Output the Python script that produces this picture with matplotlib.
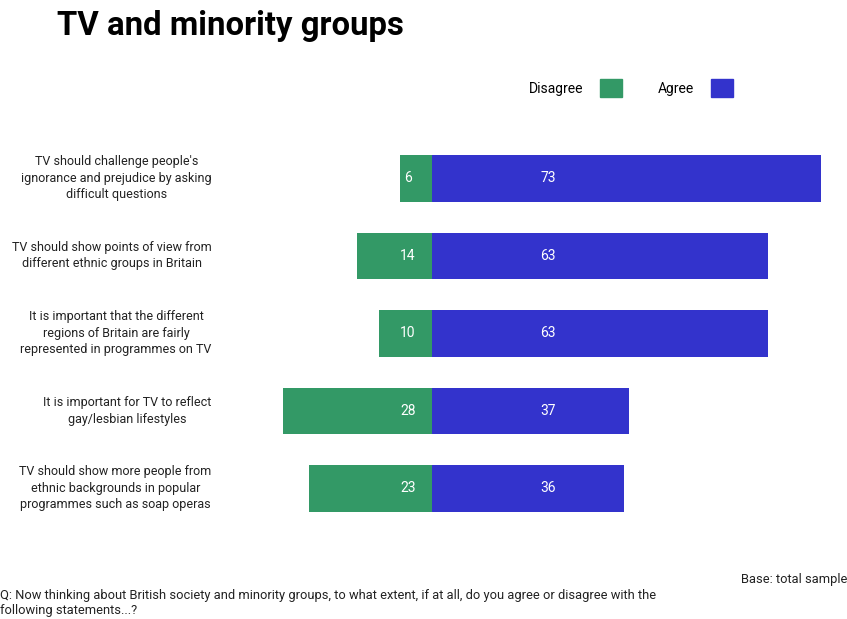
import matplotlib
matplotlib.use("Agg")
import matplotlib.pyplot as plt
from matplotlib.patches import Patch

plt.rcParams["font.family"] = ["Roboto", "DejaVu Sans"]

statements = [
    "TV should challenge people's\nignorance and prejudice by asking\ndifficult questions",
    "TV should show points of view from\ndifferent ethnic groups in Britain",
    "It is important that the different\nregions of Britain are fairly\nrepresented in programmes on TV",
    "It is important for TV to reflect\ngay/lesbian lifestyles",
    "TV should show more people from\nethnic backgrounds in popular\nprogrammes such as soap operas",
]
disagree = [6, 14, 10, 28, 23]
agree = [73, 63, 63, 37, 36]

GREEN = "#339966"
BLUE = "#3333cc"

fig = plt.figure(figsize=(8.47, 6.19), dpi=100)
W, H = 847, 619
# axes placed in pixel terms: zero line at x=432, ~5.33 px per point
ax = fig.add_axes([280 / W, 1 - 527 / H, 560 / W, (527 - 139.5) / H])

ypos = list(range(len(statements)))
ax.barh(ypos, [-d for d in disagree], height=0.6, color=GREEN)
ax.barh(ypos, agree, height=0.6, color=BLUE)

for y, d, a in zip(ypos, disagree, agree):
    ax.text(-4.5, y, str(d), color="white", ha="center", va="center", fontsize=10)
    ax.text(21.8, y, str(a), color="white", ha="center", va="center", fontsize=10)

ax.set_xlim(-28.5, 76.5)
ax.set_ylim(len(statements) - 0.5, -0.5)
ax.axis("off")

for y, s in zip(ypos, statements):
    ax.text(-41.3, y, s, ha="right", va="center", multialignment="center",
            fontsize=9, color="#222222", linespacing=1.35)

fig.text(57 / W, 1 - 26 / H, "TV and minority groups", fontsize=23.7,
         fontweight="bold", va="center", ha="left")

handles = [Patch(color=GREEN), Patch(color=BLUE)]
fig.legend(handles, ["Disagree", "Agree"], ncol=2, markerfirst=False,
           frameon=False, loc="center", bbox_to_anchor=(631 / W, 1 - 88 / H),
           fontsize=10, handlelength=1.6, handleheight=1.6, columnspacing=2.6,
           handletextpad=1.2)

fig.text(1.0, 1 - 580 / H, "Base: total sample", ha="right", va="center",
         fontsize=9.3, color="#222222")
fig.text(0.0, 1 - 603 / H,
         "Q: Now thinking about British society and minority groups, to what extent, if at all, "
         "do you agree or disagree with the\nfollowing statements...?",
         ha="left", va="center", fontsize=9.25, color="#222222", linespacing=1.25)

fig.savefig("out.png", dpi=100)
